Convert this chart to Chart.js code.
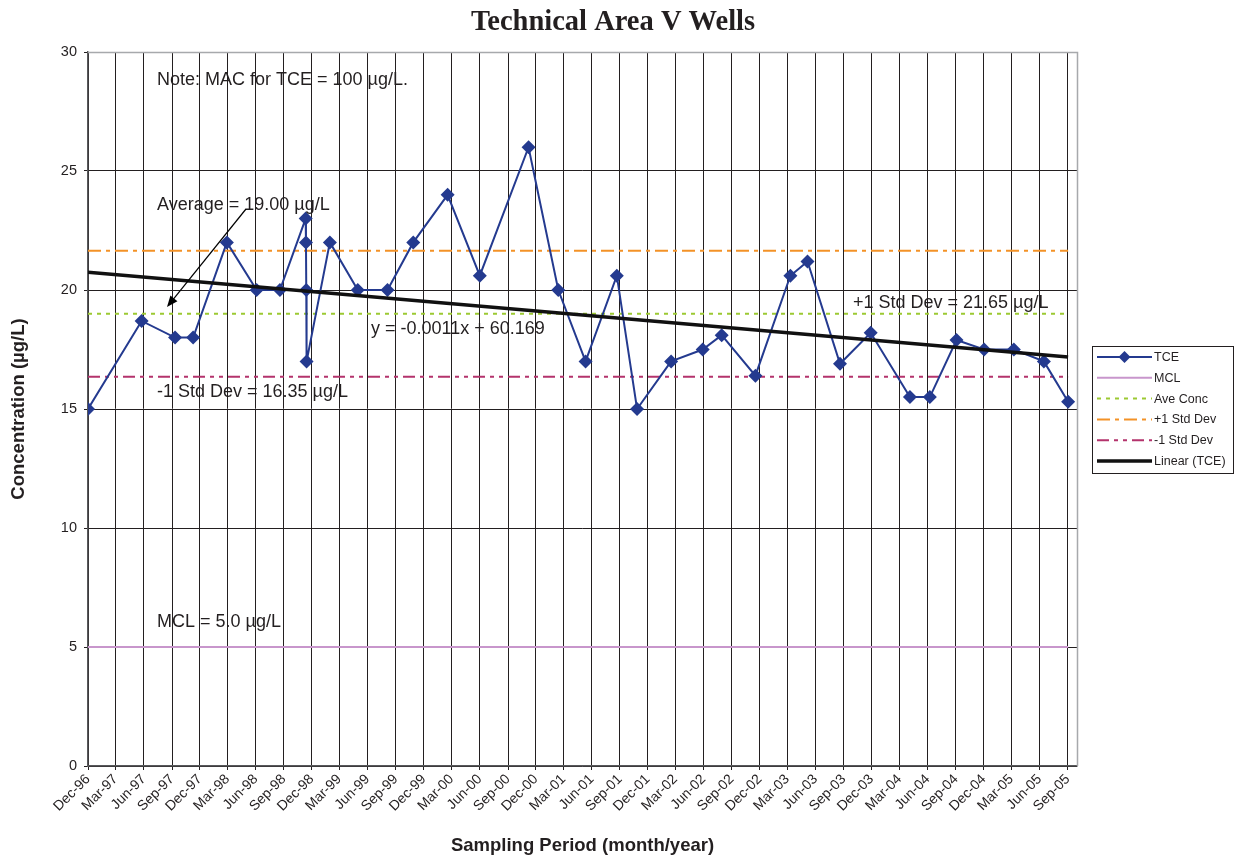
<!DOCTYPE html>
<html>
<head>
<meta charset="utf-8">
<title>Technical Area V Wells</title>
<script src="https://cdn.jsdelivr.net/npm/chart.js@4.4.1/dist/chart.umd.min.js"></script>
<style>
  html, body { margin: 0; padding: 0; background: #ffffff; }
  #wrap { width: 1236px; height: 857px; }
</style>
</head>
<body>
<div id="wrap"><canvas id="chart" width="1236" height="857"></canvas></div>
<script>
// ---- data ----
const tickLabels = [
  'Dec-96','Mar-97','Jun-97','Sep-97','Dec-97','Mar-98','Jun-98','Sep-98','Dec-98',
  'Mar-99','Jun-99','Sep-99','Dec-99','Mar-00','Jun-00','Sep-00','Dec-00','Mar-01',
  'Jun-01','Sep-01','Dec-01','Mar-02','Jun-02','Sep-02','Dec-02','Mar-03','Jun-03',
  'Sep-03','Dec-03','Mar-04','Jun-04','Sep-04','Dec-04','Mar-05','Jun-05','Sep-05'
];
const axisEndDate = '2005-10-01';

const sampleDates = [
  '1996-12-01','1997-05-25','1997-09-11','1997-11-09','1998-02-27','1998-06-04',
  '1998-08-19','1998-11-11','1998-11-12','1998-11-13','1998-11-14','1999-01-29',
  '1999-04-30','1999-08-05','1999-10-28','2000-02-17','2000-06-01','2000-11-07',
  '2001-02-12','2001-05-12','2001-08-22','2001-10-27','2002-02-15','2002-05-29',
  '2002-07-30','2002-11-17','2003-03-11','2003-05-06','2003-08-20','2003-11-28',
  '2004-04-04','2004-06-08','2004-09-03','2004-12-02','2005-03-09','2005-06-15',
  '2005-09-02'
];
const tceValues = [
  15.0, 18.7, 18.0, 18.0, 22.0, 20.0,
  20.0, 23.0, 22.0, 20.0, 17.0, 22.0,
  20.0, 20.0, 22.0, 24.0, 20.6, 26.0,
  20.0, 17.0, 20.6, 15.0, 17.0, 17.5,
  18.1, 16.4, 20.6, 21.2, 16.9, 18.2,
  15.5, 15.5, 17.9, 17.5, 17.5, 17.0,
  15.3
];

const mclLevel = 5.0;
const averageLevel = 19.00;
const plusOneStdLevel = 21.65;
const minusOneStdLevel = 16.35;

const seriesNames = ['TCE', 'MCL', 'Ave Conc', '+1 Std Dev', '-1 Std Dev', 'Linear (TCE)'];
const trendEquation = 'y = -0.0011x + 60.169';

// ---- helpers ----
const MONTHS = { Jan: 0, Feb: 1, Mar: 2, Apr: 3, May: 4, Jun: 5, Jul: 6, Aug: 7, Sep: 8, Oct: 9, Nov: 10, Dec: 11 };
const DAY_MS = 86400000;
const dayOf = s => Date.parse(s + 'T00:00:00Z') / DAY_MS;
const dayOfLabel = lbl => {
  const [m, yy] = lbl.split('-');
  const y = +yy < 50 ? 2000 + +yy : 1900 + +yy;
  return Date.UTC(y, MONTHS[m], 1) / DAY_MS;
};
const tickDays = tickLabels.map(dayOfLabel);
const labelByDay = new Map(tickDays.map((d, i) => [d, tickLabels[i]]));
const sampleDays = sampleDates.map(dayOf);
const firstDay = sampleDays[0];
const lastDay = sampleDays[sampleDays.length - 1];

// least-squares linear trend of TCE against date
const n = sampleDays.length;
const mx = sampleDays.reduce((a, b) => a + b, 0) / n;
const my = tceValues.reduce((a, b) => a + b, 0) / n;
let sxy = 0, sxx = 0;
for (let i = 0; i < n; i++) {
  sxy += (sampleDays[i] - mx) * (tceValues[i] - my);
  sxx += (sampleDays[i] - mx) ** 2;
}
const slope = sxy / sxx;
const intercept = my - slope * mx;
const trendAt = d => intercept + slope * d;

const flatLine = v => [{ x: firstDay, y: v }, { x: lastDay, y: v }];

const SANS = "'Liberation Sans', Arial, sans-serif";
const SERIF = "'Liberation Serif', 'Times New Roman', serif";
const INK = '#231f20';

const COLORS = {
  tce: '#243a8f',
  mcl: '#c896cc',
  ave: '#9cc932',
  plus: '#f39227',
  minus: '#b4336c',
  trend: '#111111'
};

const datasets = [
  {
    label: seriesNames[0],
    data: sampleDays.map((d, i) => ({ x: d, y: tceValues[i] })),
    borderColor: COLORS.tce, backgroundColor: COLORS.tce,
    borderWidth: 2, pointStyle: 'rectRot', pointRadius: 7, pointBorderWidth: 0,
    order: 1
  },
  {
    label: seriesNames[1], data: flatLine(mclLevel),
    borderColor: COLORS.mcl, borderWidth: 2, pointRadius: 0, order: 5
  },
  {
    label: seriesNames[2], data: flatLine(averageLevel),
    borderColor: COLORS.ave, borderWidth: 2, borderDash: [4, 5], pointRadius: 0, order: 4
  },
  {
    label: seriesNames[3], data: flatLine(plusOneStdLevel),
    borderColor: COLORS.plus, borderWidth: 2, borderDash: [13, 5, 4, 5], pointRadius: 0, order: 3
  },
  {
    label: seriesNames[4], data: flatLine(minusOneStdLevel),
    borderColor: COLORS.minus, borderWidth: 2, borderDash: [12, 5, 4, 5, 4, 5], pointRadius: 0, order: 2
  },
  {
    label: seriesNames[5], data: [{ x: firstDay, y: trendAt(firstDay) }, { x: lastDay, y: trendAt(lastDay) }],
    borderColor: COLORS.trend, borderWidth: 3.5, pointRadius: 0, order: 0
  }
];

// frame lines on top and right of the plot
const framePlugin = {
  id: 'frame',
  beforeDatasetsDraw(chart) {
    const { ctx, chartArea: a } = chart;
    ctx.save();
    ctx.strokeStyle = '#a7a9ac';
    ctx.lineWidth = 1.5;
    ctx.beginPath();
    ctx.moveTo(a.left, a.top + 0.5);
    ctx.lineTo(a.right + 0.5, a.top + 0.5);
    ctx.lineTo(a.right + 0.5, a.bottom);
    ctx.stroke();
    ctx.restore();
  }
};

// title, notes, arrow and legend box
const decorPlugin = {
  id: 'decor',
  afterDraw(chart) {
    const { ctx } = chart;
    ctx.save();
    ctx.fillStyle = INK;

    // title
    ctx.font = `bold 28.5px ${SERIF}`;
    ctx.textAlign = 'center';
    ctx.textBaseline = 'alphabetic';
    ctx.fillText('Technical Area V Wells', 613, 30);

    // notes on the plot
    ctx.textAlign = 'left';
    ctx.font = `18px ${SANS}`;
    const notes = [
      ['Note: MAC for TCE = 100 \u00b5g/L.', 157, 85],
      [`Average = ${averageLevel.toFixed(2)} \u00b5g/L`, 157, 210],
      [trendEquation, 371, 334],
      [`+1 Std Dev = ${plusOneStdLevel.toFixed(2)} \u00b5g/L`, 853, 308],
      [`-1 Std Dev = ${minusOneStdLevel.toFixed(2)} \u00b5g/L`, 157, 397],
      [`MCL = ${mclLevel.toFixed(1)} \u00b5g/L`, 157, 627]
    ];
    notes.forEach(([t, x, y]) => ctx.fillText(t, x, y));

    // arrow pointing at the average line
    const x1 = 246, y1 = 209, x2 = 167, y2 = 307;
    const ang = Math.atan2(y2 - y1, x2 - x1);
    ctx.strokeStyle = '#000';
    ctx.lineWidth = 1.2;
    ctx.beginPath();
    ctx.moveTo(x1, y1);
    ctx.lineTo(x2 - 6 * Math.cos(ang), y2 - 6 * Math.sin(ang));
    ctx.stroke();
    ctx.fillStyle = '#000';
    ctx.beginPath();
    ctx.moveTo(x2, y2);
    ctx.lineTo(x2 - 11 * Math.cos(ang) + 4.5 * Math.sin(ang), y2 - 11 * Math.sin(ang) - 4.5 * Math.cos(ang));
    ctx.lineTo(x2 - 11 * Math.cos(ang) - 4.5 * Math.sin(ang), y2 - 11 * Math.sin(ang) + 4.5 * Math.cos(ang));
    ctx.closePath();
    ctx.fill();

    // legend
    const bx = 1092, by = 346, bw = 141, bh = 127;
    ctx.fillStyle = '#ffffff';
    ctx.fillRect(bx, by, bw, bh);
    ctx.strokeStyle = INK;
    ctx.lineWidth = 1;
    ctx.strokeRect(bx + 0.5, by + 0.5, bw, bh);
    ctx.font = `12.5px ${SANS}`;
    ctx.textBaseline = 'middle';
    chart.data.datasets.forEach((ds, i) => {
      const ly = 357 + i * 20.8;
      ctx.save();
      ctx.strokeStyle = ds.borderColor;
      ctx.lineWidth = ds.borderWidth;
      ctx.setLineDash(ds.borderDash || []);
      ctx.beginPath();
      ctx.moveTo(1097, ly);
      ctx.lineTo(1152, ly);
      ctx.stroke();
      if (ds.pointRadius > 0) {
        ctx.fillStyle = ds.backgroundColor;
        const r = 6;
        ctx.beginPath();
        ctx.moveTo(1124.5, ly - r);
        ctx.lineTo(1124.5 + r, ly);
        ctx.lineTo(1124.5, ly + r);
        ctx.lineTo(1124.5 - r, ly);
        ctx.closePath();
        ctx.fill();
      }
      ctx.restore();
      ctx.fillStyle = INK;
      ctx.fillText(ds.label, 1154, ly + 0.5);
    });
    ctx.restore();
  }
};

new Chart(document.getElementById('chart'), {
  type: 'line',
  data: { datasets },
  options: {
    responsive: false,
    animation: false,
    devicePixelRatio: 1,
    layout: { padding: { top: 52, right: 159, left: 0, bottom: 0 } },
    plugins: { legend: { display: false }, title: { display: false }, tooltip: { enabled: false } },
    elements: { line: { tension: 0 } },
    scales: {
      x: {
        type: 'linear',
        min: tickDays[0],
        max: dayOf(axisEndDate),
        afterBuildTicks: s => { s.ticks = tickDays.map(v => ({ value: v })); },
        afterFit: s => { s.height = 91; },
        ticks: {
          autoSkip: false, minRotation: 45, maxRotation: 45, padding: 1,
          color: INK, font: { family: SANS, size: 14 },
          callback: v => labelByDay.get(v) ?? ''
        },
        grid: { color: '#231f20', lineWidth: 1, tickLength: 4 },
        border: { color: '#58595b', width: 1.5 },
        title: {
          display: true, text: 'Sampling Period (month/year)', color: INK,
          font: { family: SANS, size: 18.5, weight: 'bold' }, padding: { top: 0, bottom: 0 }
        }
      },
      y: {
        min: 0, max: 30,
        afterFit: s => { s.width = 88; },
        ticks: { stepSize: 5, color: INK, padding: 7, font: { family: SANS, size: 14.5 } },
        grid: { color: '#231f20', lineWidth: 1, tickLength: 4 },
        border: { color: '#58595b', width: 1.5 },
        title: {
          display: true, text: 'Concentration (\u00b5g/L)', color: INK,
          font: { family: SANS, size: 18.5, weight: 'bold' }, padding: { top: 8, bottom: 0 }
        }
      }
    }
  },
  plugins: [framePlugin, decorPlugin]
});
</script>
</body>
</html>
